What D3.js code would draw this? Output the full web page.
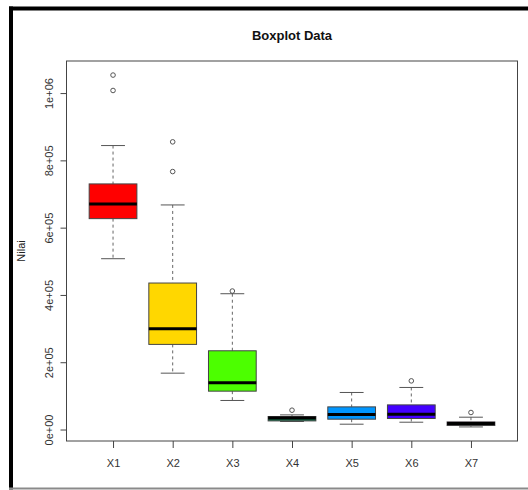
<!DOCTYPE html>
<html>
<head>
<meta charset="utf-8">
<script src="https://cdn.jsdelivr.net/npm/d3@7/dist/d3.min.js"></script>
<style>
  html, body { margin: 0; padding: 0; background: #fff; }
  svg { display: block; font-family: "Liberation Sans", Arial, sans-serif; }
</style>
</head>
<body>
<svg id="chart" width="528" height="490"></svg>
<script>
// ---- data ----
const categories = ["X1", "X2", "X3", "X4", "X5", "X6", "X7"];
const lowerWhisker = [507700, 167500, 86300, 23800, 15800, 21700, 7700];
const q1Values     = [626800, 253000, 114000, 25600, 30700, 32700, 11900];
const medianValues = [670500, 299400, 138700, 34000, 44600, 45500, 17900];
const q3Values     = [730000, 435400, 234000, 38700, 67300, 73200, 22600];
const upperWhisker = [844000, 667500, 403600, 43500, 110100, 125000, 36600];
const outlierValues = [[1053500, 1007700], [855000, 766700], [411600], [57400], [], [144600], [50600]];
const boxColors = ["#FF0000", "#FFD700", "#4CFF00", "#0E7A4E", "#0096FF", "#4400FF", "#800080"];
const yTickValues = [0, 200000, 400000, 600000, 800000, 1000000];
const yTickLabels = ["0e+00", "2e+05", "4e+05", "6e+05", "8e+05", "1e+06"];
const titleText = "Boxplot Data";
const yTitle = "Nilai";

// ---- layout ----
const svg = d3.select("#chart");
const plot = { left: 66.5, right: 517.5, top: 61, bottom: 441 };

// frame around the picture
svg.append("rect").attr("x", 9).attr("y", 6.5).attr("width", 530).attr("height", 4).attr("fill", "#000");
svg.append("rect").attr("x", 9).attr("y", 6.5).attr("width", 4).attr("height", 483).attr("fill", "#000");
svg.append("rect").attr("x", 9).attr("y", 487.5).attr("width", 530).attr("height", 2).attr("fill", "#8a8a8a");

// scales (R-style 4% extension)
const allVals = lowerWhisker.concat(upperWhisker, outlierValues.flat());
const dMin = d3.min(allVals), dMax = d3.max(allVals);
const ext = (dMax - dMin) * 0.04;
const y = d3.scaleLinear().domain([dMin - ext, dMax + ext]).range([plot.bottom, plot.top]);
const x = d3.scaleLinear().domain([0.5 - 0.28, categories.length + 0.5 + 0.28]).range([plot.left, plot.right]);
const unit = x(2) - x(1);
const boxW = unit * 0.8, capW = unit * 0.4;

// plot box
svg.append("rect").attr("x", plot.left).attr("y", plot.top)
  .attr("width", plot.right - plot.left).attr("height", plot.bottom - plot.top)
  .attr("fill", "none").attr("stroke", "#444").attr("stroke-width", 1);

// y axis
const yAxis = d3.axisLeft(y).tickValues(yTickValues).tickSize(6)
  .tickFormat((d, i) => yTickLabels[i]);
const gy = svg.append("g").attr("transform", `translate(${plot.left},0)`).call(yAxis);
gy.select(".domain").attr("d", `M0,${y(yTickValues[0])}V${y(yTickValues[yTickValues.length - 1])}`)
  .attr("stroke", "#444");
gy.selectAll(".tick line").attr("stroke", "#444");
gy.selectAll(".tick text")
  .attr("font-size", 11).attr("fill", "#333")
  .attr("x", null).attr("dy", null)
  .attr("transform", "translate(-14,0) rotate(-90)")
  .attr("text-anchor", "middle").attr("dominant-baseline", "auto");

// x axis
const xAxis = d3.axisBottom(x).tickValues(categories.map((c, i) => i + 1)).tickSize(7)
  .tickFormat((d, i) => categories[i]);
const gx = svg.append("g").attr("transform", `translate(0,${plot.bottom})`).call(xAxis);
gx.select(".domain").remove();
gx.selectAll(".tick line").attr("stroke", "#444");
gx.selectAll(".tick text").attr("font-size", 11).attr("fill", "#333").attr("y", 18).attr("dy", "0.71em");

// titles
svg.append("text").attr("x", (plot.left + plot.right) / 2).attr("y", 40)
  .attr("text-anchor", "middle").attr("font-size", 13).attr("font-weight", "bold").attr("fill", "#111")
  .text(titleText);
svg.append("text").attr("transform", `translate(25,${(plot.top + plot.bottom) / 2}) rotate(-90)`)
  .attr("text-anchor", "middle").attr("font-size", 11).attr("fill", "#222")
  .text(yTitle);

// boxes
const g = svg.append("g");
categories.forEach((c, i) => {
  const cx = x(i + 1);
  // whiskers (dashed)
  g.append("line").attr("x1", cx).attr("x2", cx).attr("y1", y(upperWhisker[i])).attr("y2", y(q3Values[i]))
    .attr("stroke", "#666").attr("stroke-dasharray", "3,3");
  g.append("line").attr("x1", cx).attr("x2", cx).attr("y1", y(q1Values[i])).attr("y2", y(lowerWhisker[i]))
    .attr("stroke", "#666").attr("stroke-dasharray", "3,3");
  // caps
  [upperWhisker[i], lowerWhisker[i]].forEach(v => {
    g.append("line").attr("x1", cx - capW / 2).attr("x2", cx + capW / 2).attr("y1", y(v)).attr("y2", y(v))
      .attr("stroke", "#555");
  });
  // box
  g.append("rect").attr("x", cx - boxW / 2).attr("width", boxW)
    .attr("y", y(q3Values[i])).attr("height", y(q1Values[i]) - y(q3Values[i]))
    .attr("fill", boxColors[i]).attr("stroke", "#444").attr("stroke-width", 1);
  // median
  g.append("line").attr("x1", cx - boxW / 2).attr("x2", cx + boxW / 2)
    .attr("y1", y(medianValues[i])).attr("y2", y(medianValues[i]))
    .attr("stroke", "#000").attr("stroke-width", 3);
  // outliers
  outlierValues[i].forEach(v => {
    g.append("circle").attr("cx", cx).attr("cy", y(v)).attr("r", 2.3)
      .attr("fill", "none").attr("stroke", "#555").attr("stroke-width", 1);
  });
});
</script>
</body>
</html>
